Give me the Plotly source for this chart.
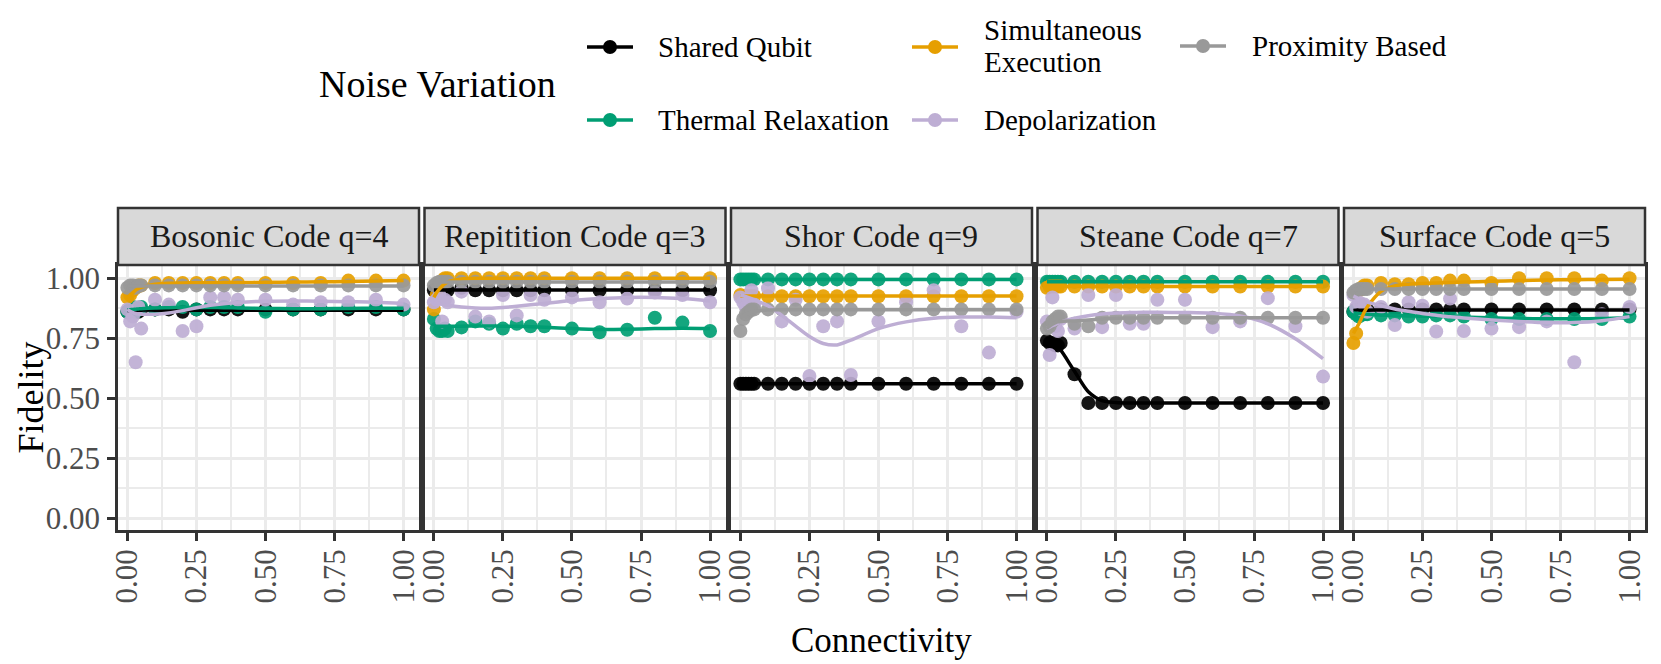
import plotly.graph_objects as go

W, H = 1661, 664

# ---------------- data ----------------
panels = ["Bosonic Code q=4", "Repitition Code q=3", "Shor Code q=9",
          "Steane Code q=7", "Surface Code q=5"]
series = ["Shared Qubit", "Thermal Relaxation", "Simultaneous Execution",
          "Depolarization", "Proximity Based"]
colors = ["#000000", "#009E73", "#E69F00", "#BEAED4", "#999999"]

X = [0, 0.01, 0.02, 0.03, 0.04, 0.05, 0.1, 0.15, 0.2, 0.25, 0.3, 0.35, 0.4,
     0.5, 0.6, 0.7, 0.8, 0.9, 1.0]

x_ticks = [0, 0.25, 0.5, 0.75, 1.0]
x_tick_labels = ["0.00", "0.25", "0.50", "0.75", "1.00"]
y_ticks = [0, 0.25, 0.5, 0.75, 1.0]
y_tick_labels = ["0.00", "0.25", "0.50", "0.75", "1.00"]

# Bosonic Code q=4 (points)
bos_shared = [0.86, 0.86, 0.87, 0.87, 0.86, 0.87, 0.87, 0.87, 0.86, 0.87, 0.87, 0.87, 0.87, 0.87, 0.87, 0.87, 0.87, 0.87, 0.87]
bos_thermal = [0.86, 0.87, 0.88, 0.86, 0.87, 0.88, 0.87, 0.88, 0.88, 0.87, 0.88, 0.88, 0.88, 0.86, 0.87, 0.87, 0.88, 0.88, 0.87]
bos_simul = [0.92, 0.93, 0.95, 0.96, 0.97, 0.97, 0.98, 0.98, 0.98, 0.98, 0.98, 0.98, 0.98, 0.98, 0.98, 0.98, 0.99, 0.99, 0.99]
bos_depol = [0.87, 0.82, 0.84, 0.65, 0.88, 0.79, 0.91, 0.89, 0.78, 0.80, 0.92, 0.92, 0.91, 0.91, 0.89, 0.90, 0.90, 0.91, 0.89]
bos_prox = [0.96, 0.97, 0.97, 0.96, 0.97, 0.97, 0.97, 0.97, 0.97, 0.97, 0.97, 0.97, 0.97, 0.97, 0.97, 0.97, 0.97, 0.97, 0.97]
# Bosonic smooth curves
bos_shared_fit = [0.865, 0.865, 0.866, 0.866, 0.866, 0.867, 0.867, 0.867, 0.867, 0.867, 0.867, 0.867, 0.867, 0.867, 0.867, 0.867, 0.867, 0.867, 0.867]
bos_thermal_fit = [0.868, 0.869, 0.870, 0.871, 0.872, 0.873, 0.876, 0.877, 0.878, 0.878, 0.878, 0.877, 0.876, 0.874, 0.873, 0.873, 0.874, 0.875, 0.875]
bos_simul_fit = [0.915, 0.93, 0.94, 0.95, 0.957, 0.962, 0.975, 0.979, 0.980, 0.981, 0.981, 0.982, 0.982, 0.983, 0.984, 0.985, 0.986, 0.988, 0.99]
bos_depol_fit = [0.87, 0.862, 0.857, 0.853, 0.851, 0.85, 0.85, 0.855, 0.865, 0.877, 0.887, 0.894, 0.899, 0.904, 0.905, 0.904, 0.902, 0.90, 0.895]
bos_prox_fit = [0.968, 0.968, 0.968, 0.968, 0.968, 0.968, 0.968, 0.968, 0.968, 0.968, 0.968, 0.968, 0.968, 0.968, 0.968, 0.968, 0.968, 0.968, 0.968]

# Repitition Code q=3 (points)
rep_shared = [0.95, 0.95, 0.95, 0.96, 0.95, 0.95, 0.96, 0.95, 0.95, 0.95, 0.95, 0.95, 0.95, 0.95, 0.95, 0.95, 0.95, 0.95, 0.95]
rep_thermal = [0.83, 0.79, 0.78, 0.78, 0.79, 0.78, 0.795, 0.82, 0.81, 0.79, 0.81, 0.80, 0.80, 0.79, 0.775, 0.785, 0.835, 0.815, 0.78]
rep_simul = [0.87, 0.93, 0.97, 0.99, 1.0, 1.0, 1.0, 1.0, 1.0, 1.0, 1.0, 1.0, 1.0, 1.0, 1.0, 1.0, 1.0, 1.0, 1.0]
rep_depol = [0.90, 0.91, 0.93, 0.82, 0.91, 0.90, 0.944, 0.84, 0.82, 0.93, 0.845, 0.93, 0.91, 0.92, 0.90, 0.915, 0.94, 0.93, 0.90]
rep_prox = [0.97, 0.98, 0.985, 0.985, 0.985, 0.985, 0.985, 0.985, 0.985, 0.985, 0.985, 0.985, 0.985, 0.985, 0.985, 0.985, 0.985, 0.985, 0.985]
rep_shared_fit = [0.951, 0.951, 0.951, 0.951, 0.951, 0.951, 0.951, 0.951, 0.951, 0.951, 0.951, 0.951, 0.951, 0.951, 0.951, 0.951, 0.951, 0.951, 0.951]
rep_thermal_fit = [0.80, 0.80, 0.80, 0.80, 0.80, 0.80, 0.80, 0.801, 0.801, 0.80, 0.80, 0.798, 0.796, 0.79, 0.786, 0.787, 0.79, 0.792, 0.79]
rep_simul_fit = [0.92, 0.94, 0.955, 0.967, 0.977, 0.985, 0.997, 1.0, 1.0, 1.0, 1.0, 1.0, 1.0, 1.0, 1.0, 1.0, 1.0, 1.0, 1.0]
rep_depol_fit = [0.90, 0.897, 0.894, 0.891, 0.889, 0.887, 0.88, 0.876, 0.875, 0.878, 0.883, 0.889, 0.895, 0.907, 0.915, 0.92, 0.92, 0.915, 0.905]
rep_prox_fit = [0.983, 0.983, 0.984, 0.984, 0.984, 0.984, 0.984, 0.984, 0.984, 0.984, 0.984, 0.984, 0.984, 0.984, 0.984, 0.984, 0.984, 0.984, 0.984]

# Shor Code q=9 (points)
shor_shared = [0.56, 0.56, 0.56, 0.56, 0.56, 0.56, 0.56, 0.56, 0.56, 0.56, 0.56, 0.56, 0.56, 0.56, 0.56, 0.56, 0.56, 0.56, 0.56]
shor_thermal = [0.995, 0.995, 0.995, 0.995, 0.995, 0.995, 0.995, 0.995, 0.995, 0.995, 0.995, 0.995, 0.995, 0.995, 0.995, 0.995, 0.995, 0.995, 0.995]
shor_simul = [0.93, 0.925, 0.925, 0.925, 0.925, 0.925, 0.925, 0.925, 0.925, 0.925, 0.925, 0.925, 0.925, 0.925, 0.925, 0.925, 0.925, 0.925, 0.925]
shor_depol = [0.92, 0.90, 0.88, 0.91, 0.95, 0.89, 0.958, 0.82, 0.91, 0.593, 0.80, 0.82, 0.597, 0.82, 0.90, 0.95, 0.80, 0.69, 0.86]
shor_prox = [0.78, 0.83, 0.85, 0.86, 0.87, 0.87, 0.87, 0.87, 0.87, 0.87, 0.87, 0.87, 0.87, 0.87, 0.87, 0.87, 0.87, 0.87, 0.87]
shor_shared_fit = [0.56, 0.56, 0.56, 0.56, 0.56, 0.56, 0.56, 0.56, 0.56, 0.56, 0.56, 0.56, 0.56, 0.56, 0.56, 0.56, 0.56, 0.56, 0.56]
shor_thermal_fit = [0.995, 0.995, 0.995, 0.995, 0.995, 0.995, 0.995, 0.995, 0.995, 0.995, 0.995, 0.995, 0.995, 0.995, 0.995, 0.995, 0.995, 0.995, 0.995]
shor_simul_fit = [0.926, 0.926, 0.926, 0.926, 0.926, 0.926, 0.926, 0.926, 0.926, 0.926, 0.926, 0.926, 0.926, 0.926, 0.926, 0.926, 0.926, 0.926, 0.926]
shor_depol_fit = [0.93, 0.927, 0.923, 0.919, 0.915, 0.91, 0.885, 0.845, 0.80, 0.757, 0.728, 0.722, 0.742, 0.79, 0.818, 0.833, 0.838, 0.838, 0.835]
shor_prox_fit = [0.835, 0.843, 0.85, 0.855, 0.859, 0.862, 0.868, 0.869, 0.869, 0.869, 0.869, 0.869, 0.869, 0.869, 0.869, 0.869, 0.869, 0.869, 0.869]

# Steane Code q=7 (points)
ste_shared = [0.74, 0.73, 0.73, 0.72, 0.72, 0.73, 0.60, 0.48, 0.48, 0.48, 0.48, 0.48, 0.48, 0.48, 0.48, 0.48, 0.48, 0.48, 0.48]
ste_thermal = [0.985, 0.985, 0.985, 0.985, 0.985, 0.985, 0.985, 0.985, 0.985, 0.985, 0.985, 0.985, 0.985, 0.985, 0.985, 0.985, 0.985, 0.985, 0.985]
ste_simul = [0.96, 0.965, 0.965, 0.965, 0.965, 0.965, 0.965, 0.965, 0.965, 0.965, 0.965, 0.965, 0.965, 0.965, 0.965, 0.965, 0.965, 0.965, 0.965]
ste_depol = [0.82, 0.68, 0.92, 0.80, 0.78, 0.83, 0.79, 0.93, 0.796, 0.93, 0.81, 0.81, 0.91, 0.91, 0.796, 0.82, 0.917, 0.80, 0.59]
ste_prox = [0.79, 0.80, 0.82, 0.83, 0.84, 0.84, 0.81, 0.80, 0.835, 0.835, 0.835, 0.835, 0.835, 0.835, 0.835, 0.835, 0.835, 0.835, 0.835]
ste_shared_fit = [0.745, 0.737, 0.728, 0.719, 0.71, 0.70, 0.612, 0.527, 0.49, 0.482, 0.48, 0.48, 0.48, 0.48, 0.48, 0.48, 0.48, 0.48, 0.48]
ste_thermal_fit = [0.985, 0.985, 0.985, 0.985, 0.985, 0.985, 0.985, 0.985, 0.985, 0.985, 0.985, 0.985, 0.985, 0.985, 0.985, 0.985, 0.985, 0.985, 0.985]
ste_simul_fit = [0.965, 0.965, 0.965, 0.965, 0.965, 0.965, 0.965, 0.965, 0.965, 0.965, 0.965, 0.965, 0.965, 0.965, 0.965, 0.965, 0.965, 0.965, 0.965]
ste_depol_fit = [0.79, 0.796, 0.802, 0.807, 0.812, 0.817, 0.833, 0.844, 0.851, 0.855, 0.857, 0.858, 0.858, 0.857, 0.854, 0.843, 0.81, 0.748, 0.665]
ste_prox_fit = [0.79, 0.80, 0.808, 0.814, 0.818, 0.82, 0.822, 0.826, 0.83, 0.833, 0.834, 0.835, 0.835, 0.835, 0.835, 0.835, 0.835, 0.835, 0.835]

# Surface Code q=5 (points)
sur_shared = [0.86, 0.87, 0.87, 0.86, 0.87, 0.87, 0.87, 0.87, 0.87, 0.87, 0.87, 0.87, 0.87, 0.87, 0.87, 0.87, 0.87, 0.87, 0.87]
sur_thermal = [0.86, 0.85, 0.84, 0.86, 0.85, 0.85, 0.845, 0.845, 0.84, 0.84, 0.845, 0.845, 0.84, 0.83, 0.83, 0.83, 0.83, 0.83, 0.84]
sur_simul = [0.73, 0.77, 0.95, 0.96, 0.97, 0.97, 0.98, 0.975, 0.975, 0.98, 0.98, 0.99, 0.99, 0.98, 1.0, 1.0, 1.0, 0.99, 1.0]
sur_depol = [0.93, 0.88, 0.90, 0.87, 0.89, 0.86, 0.88, 0.805, 0.90, 0.885, 0.778, 0.915, 0.78, 0.79, 0.796, 0.82, 0.65, 0.85, 0.88]
sur_prox = [0.94, 0.95, 0.955, 0.955, 0.955, 0.955, 0.955, 0.955, 0.955, 0.955, 0.955, 0.955, 0.955, 0.955, 0.955, 0.955, 0.955, 0.955, 0.955]
sur_shared_fit = [0.866, 0.867, 0.867, 0.867, 0.867, 0.867, 0.868, 0.868, 0.868, 0.868, 0.868, 0.868, 0.868, 0.868, 0.868, 0.868, 0.868, 0.868, 0.868]
sur_thermal_fit = [0.855, 0.854, 0.853, 0.852, 0.851, 0.85, 0.847, 0.845, 0.843, 0.842, 0.841, 0.84, 0.838, 0.835, 0.832, 0.831, 0.831, 0.832, 0.835]
sur_simul_fit = [0.77, 0.79, 0.81, 0.835, 0.86, 0.88, 0.945, 0.968, 0.975, 0.978, 0.98, 0.982, 0.984, 0.987, 0.99, 0.992, 0.994, 0.995, 0.996]
sur_depol_fit = [0.925, 0.92, 0.915, 0.91, 0.905, 0.90, 0.885, 0.872, 0.862, 0.853, 0.846, 0.839, 0.834, 0.826, 0.82, 0.815, 0.815, 0.823, 0.84]
sur_prox_fit = [0.952, 0.953, 0.954, 0.954, 0.955, 0.955, 0.955, 0.955, 0.955, 0.955, 0.955, 0.955, 0.955, 0.955, 0.955, 0.955, 0.955, 0.955, 0.955]

points_by_panel = [
    [bos_shared, bos_thermal, bos_simul, bos_depol, bos_prox],
    [rep_shared, rep_thermal, rep_simul, rep_depol, rep_prox],
    [shor_shared, shor_thermal, shor_simul, shor_depol, shor_prox],
    [ste_shared, ste_thermal, ste_simul, ste_depol, ste_prox],
    [sur_shared, sur_thermal, sur_simul, sur_depol, sur_prox],
]
fits_by_panel = [
    [bos_shared_fit, bos_thermal_fit, bos_simul_fit, bos_depol_fit, bos_prox_fit],
    [rep_shared_fit, rep_thermal_fit, rep_simul_fit, rep_depol_fit, rep_prox_fit],
    [shor_shared_fit, shor_thermal_fit, shor_simul_fit, shor_depol_fit, shor_prox_fit],
    [ste_shared_fit, ste_thermal_fit, ste_simul_fit, ste_depol_fit, ste_prox_fit],
    [sur_shared_fit, sur_thermal_fit, sur_simul_fit, sur_depol_fit, sur_prox_fit],
]

# ---------------- layout geometry (pixels) ----------------
FONT = "Liberation Serif"
panel_left = [110, 416.5, 723, 1029.5, 1336]
panel_w = 301
panel_top, panel_bot = 257, 522
strip_top = 200

def px(x):
    return x / W

def py(y):
    return 1 - y / H

fig = go.Figure()

for i in range(5):
    sfx = "" if i == 0 else str(i + 1)
    xa, ya = "x" + sfx, "y" + sfx
    for s in range(5):
        fig.add_trace(go.Scatter(
            x=X, y=points_by_panel[i][s], mode="markers", xaxis=xa, yaxis=ya,
            marker=dict(size=14, color=colors[s], opacity=0.92, line=dict(width=0)),
            showlegend=False, hoverinfo="skip"))
    for s in range(5):
        fig.add_trace(go.Scatter(
            x=X, y=fits_by_panel[i][s], mode="lines", xaxis=xa, yaxis=ya,
            line=dict(color=colors[s], width=3.5, shape="spline", smoothing=0.8),
            showlegend=False, hoverinfo="skip"))

layout = dict(
    width=W, height=H, margin=dict(l=0, r=0, t=0, b=0),
    paper_bgcolor="white", plot_bgcolor="white", showlegend=False,
    font=dict(family=FONT, color="#1A1A1A"),
)

shapes = []
annotations = []
for i in range(5):
    sfx = "" if i == 0 else str(i + 1)
    l = panel_left[i]
    r = l + panel_w
    layout["xaxis" + sfx] = dict(
        domain=[px(l), px(r)], anchor="y" + sfx, range=[-0.034, 1.056],
        tickmode="array", tickvals=x_ticks, ticktext=x_tick_labels,
        tickangle=-90, ticks="outside", ticklen=8, tickwidth=3, tickcolor="#333333",
        tickfont=dict(family=FONT, size=31, color="#4D4D4D"), ticklabelstandoff=-4,
        showgrid=True, gridcolor="#EBEBEB", gridwidth=3,
        minor=dict(tickvals=[0.125, 0.375, 0.625, 0.875], showgrid=True,
                   gridcolor="#EBEBEB", gridwidth=1.5, ticks=""),
        showline=True, linecolor="#333333", linewidth=2.5, mirror=True,
        zeroline=False, automargin=False, fixedrange=True)
    layout["yaxis" + sfx] = dict(
        domain=[py(panel_bot), py(panel_top)], anchor="x" + sfx, range=[-0.049, 1.055],
        tickmode="array", tickvals=y_ticks, ticktext=y_tick_labels,
        ticks="outside" if i == 0 else "", ticklen=8, tickwidth=3, tickcolor="#333333",
        showticklabels=(i == 0),
        tickfont=dict(family=FONT, size=31, color="#4D4D4D"), ticklabelstandoff=1,
        showgrid=True, gridcolor="#EBEBEB", gridwidth=3,
        minor=dict(tickvals=[0.125, 0.375, 0.625, 0.875], showgrid=True,
                   gridcolor="#EBEBEB", gridwidth=1.5, ticks=""),
        showline=True, linecolor="#333333", linewidth=2.5, mirror=True,
        zeroline=False, automargin=False, fixedrange=True)
    # strip
    shapes.append(dict(type="rect", xref="paper", yref="paper",
                       x0=px(l), x1=px(r), y0=py(panel_top), y1=py(strip_top),
                       fillcolor="#D9D9D9", line=dict(color="#333333", width=2.5),
                       layer="above"))
    annotations.append(dict(text=panels[i], xref="paper", yref="paper",
                            x=px((l + r) / 2), y=py((strip_top + panel_top) / 2),
                            xanchor="center", yanchor="middle", showarrow=False,
                            font=dict(family=FONT, size=32, color="#1A1A1A")))

# axis titles
annotations.append(dict(text="Connectivity", xref="paper", yref="paper",
                        x=px((panel_left[0] + panel_left[4] + panel_w) / 2), y=py(632),
                        xanchor="center", yanchor="middle", showarrow=False,
                        font=dict(family=FONT, size=35, color="#000000")))
annotations.append(dict(text="Fidelity", xref="paper", yref="paper",
                        x=px(0), y=py((panel_top + panel_bot) / 2), textangle=-90,
                        xanchor="left", yanchor="middle", showarrow=False,
                        font=dict(family=FONT, size=36, color="#000000")))

# legend (manual, ggplot style: 2 rows, filled by column)
annotations.append(dict(text="Noise Variation", xref="paper", yref="paper",
                        x=px(309), y=py(76), xanchor="left", yanchor="middle",
                        showarrow=False, font=dict(family=FONT, size=38, color="#000000")))
legend_keys = [  # (series index, key centre x, row y, label x)
    (0, 602, 39, 648),
    (1, 602, 112, 648),
    (2, 927, 39, 974),
    (3, 927, 112, 974),
    (4, 1195, 38, 1242),
]
legend_text = {0: ["Shared Qubit"], 1: ["Thermal Relaxation"],
               2: ["Simultaneous", "Execution"], 3: ["Depolarization"],
               4: ["Proximity Based"]}
for s, kx, ky, lx in legend_keys:
    shapes.append(dict(type="line", xref="paper", yref="paper",
                       x0=px(kx - 23), x1=px(kx + 23), y0=py(ky), y1=py(ky),
                       line=dict(color=colors[s], width=3.5)))
    shapes.append(dict(type="circle", xref="paper", yref="paper",
                       xsizemode="pixel", ysizemode="pixel",
                       xanchor=px(kx), yanchor=py(ky),
                       x0=-7, x1=7, y0=-7, y1=7,
                       fillcolor=colors[s], line=dict(width=0)))
    lines = legend_text[s]
    if len(lines) == 1:
        annotations.append(dict(text=lines[0], xref="paper", yref="paper",
                                x=px(lx), y=py(ky), xanchor="left", yanchor="middle",
                                showarrow=False,
                                font=dict(family=FONT, size=29, color="#000000")))
    else:
        for k, t in enumerate(lines):
            annotations.append(dict(text=t, xref="paper", yref="paper",
                                    x=px(lx), y=py(ky - 17 + 32 * k),
                                    xanchor="left", yanchor="middle", showarrow=False,
                                    font=dict(family=FONT, size=29, color="#000000")))

layout["shapes"] = shapes
layout["annotations"] = annotations
fig.update_layout(**layout)
fig.write_html("out.html")
